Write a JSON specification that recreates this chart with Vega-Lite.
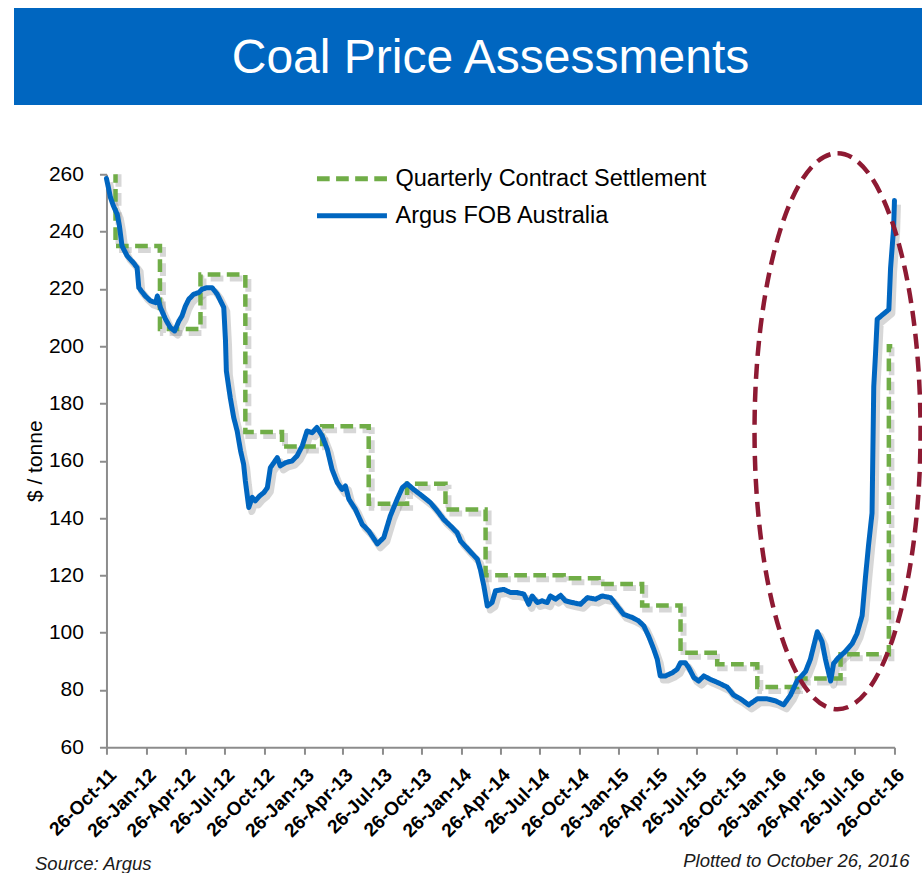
{
  "$schema": "https://vega.github.io/schema/vega-lite/v6.json",
  "padding": {"left": 14, "top": 8, "right": 0, "bottom": 0},
  "background": "white",
  "spacing": 38.25,
  "center": true,
  "bounds": "full",
  "resolve": {"legend": {"color": "independent", "strokeDash": "independent"}},
  "title": {"text": "Source: Argus", "orient": "bottom", "anchor": "start", "frame": "bounds", "font": "Liberation Sans", "fontSize": 18.5, "fontStyle": "italic", "fontWeight": "normal", "color": "#1a1a1a", "offset": -15.5, "dx": 21},
  "datasets": {
    "argus": [
      {"date":"2011-10-26","price":258.5},{"date":"2011-10-31","price":255},{"date":"2011-11-04","price":252},{"date":"2011-11-11","price":249},{"date":"2011-11-20","price":246},{"date":"2011-11-25","price":242},{"date":"2011-12-01","price":235},{"date":"2011-12-13","price":231.5},{"date":"2011-12-28","price":229},{"date":"2012-01-05","price":227.4},{"date":"2012-01-09","price":220.4},{"date":"2012-01-24","price":217.5},{"date":"2012-02-05","price":215.8},{"date":"2012-02-17","price":215.2},{"date":"2012-02-21","price":217.5},{"date":"2012-02-28","price":213.5},{"date":"2012-03-11","price":209.4},{"date":"2012-03-22","price":206.5},{"date":"2012-04-01","price":205.3},{"date":"2012-04-11","price":208.8},{"date":"2012-04-18","price":210.5},{"date":"2012-04-26","price":214},{"date":"2012-05-04","price":216.4},{"date":"2012-05-15","price":218.1},{"date":"2012-05-27","price":218.7},{"date":"2012-06-04","price":219.9},{"date":"2012-06-15","price":220.4},{"date":"2012-06-27","price":220.4},{"date":"2012-07-09","price":218.1},{"date":"2012-07-24","price":213.5},{"date":"2012-07-28","price":201.8},{"date":"2012-07-30","price":191.3},{"date":"2012-08-08","price":182},{"date":"2012-08-16","price":175.1},{"date":"2012-08-24","price":170.4},{"date":"2012-09-01","price":163.4},{"date":"2012-09-08","price":158.8},{"date":"2012-09-12","price":153},{"date":"2012-09-20","price":143.7},{"date":"2012-09-28","price":147.2},{"date":"2012-10-05","price":146},{"date":"2012-10-15","price":147.7},{"date":"2012-10-25","price":148.9},{"date":"2012-11-02","price":150.6},{"date":"2012-11-09","price":157.6},{"date":"2012-11-17","price":159.3},{"date":"2012-11-25","price":161.1},{"date":"2012-12-02","price":158.2},{"date":"2012-12-14","price":159.3},{"date":"2012-12-29","price":159.9},{"date":"2013-01-10","price":161.7},{"date":"2013-01-22","price":165.2},{"date":"2013-02-02","price":170.4},{"date":"2013-02-14","price":169.8},{"date":"2013-02-25","price":171.6},{"date":"2013-03-09","price":168.7},{"date":"2013-03-21","price":164},{"date":"2013-04-01","price":157},{"date":"2013-04-13","price":152.4},{"date":"2013-04-24","price":150},{"date":"2013-05-02","price":151.2},{"date":"2013-05-10","price":146.6},{"date":"2013-05-25","price":143.1},{"date":"2013-06-10","price":137.8},{"date":"2013-06-25","price":135.5},{"date":"2013-07-15","price":131},{"date":"2013-07-30","price":133.2},{"date":"2013-08-14","price":140.7},{"date":"2013-08-30","price":146.6},{"date":"2013-09-11","price":150.6},{"date":"2013-09-22","price":152},{"date":"2013-10-07","price":150},{"date":"2013-10-27","price":147.7},{"date":"2013-11-15","price":145.4},{"date":"2013-12-01","price":142.5},{"date":"2013-12-16","price":139.5},{"date":"2014-01-01","price":137.2},{"date":"2014-01-16","price":134.9},{"date":"2014-01-24","price":132},{"date":"2014-02-11","price":129},{"date":"2014-03-04","price":125.6},{"date":"2014-03-11","price":122},{"date":"2014-03-19","price":116.3},{"date":"2014-03-27","price":109.3},{"date":"2014-04-07","price":110.5},{"date":"2014-04-15","price":114.6},{"date":"2014-05-04","price":115.1},{"date":"2014-05-20","price":114},{"date":"2014-06-04","price":114},{"date":"2014-06-20","price":113.4},{"date":"2014-07-01","price":109.9},{"date":"2014-07-09","price":112.8},{"date":"2014-07-21","price":110.5},{"date":"2014-08-01","price":111.1},{"date":"2014-08-13","price":110.5},{"date":"2014-08-20","price":112.8},{"date":"2014-09-01","price":111.7},{"date":"2014-09-13","price":113},{"date":"2014-09-24","price":111.1},{"date":"2014-10-10","price":110.5},{"date":"2014-10-29","price":109.9},{"date":"2014-11-14","price":112.2},{"date":"2014-12-03","price":111.7},{"date":"2014-12-18","price":112.8},{"date":"2015-01-07","price":112.2},{"date":"2015-01-22","price":109.3},{"date":"2015-02-06","price":106.4},{"date":"2015-02-26","price":105.3},{"date":"2015-03-13","price":104.1},{"date":"2015-03-25","price":102.3},{"date":"2015-04-05","price":98.8},{"date":"2015-04-17","price":94.2},{"date":"2015-04-25","price":90.7},{"date":"2015-05-02","price":84.9},{"date":"2015-05-14","price":84.9},{"date":"2015-05-30","price":86},{"date":"2015-06-10","price":87.2},{"date":"2015-06-18","price":89.5},{"date":"2015-06-29","price":89.5},{"date":"2015-07-07","price":87.8},{"date":"2015-07-19","price":84.3},{"date":"2015-07-30","price":83.1},{"date":"2015-08-11","price":84.9},{"date":"2015-08-26","price":83.7},{"date":"2015-09-15","price":82.4},{"date":"2015-10-04","price":81},{"date":"2015-10-19","price":78.2},{"date":"2015-11-04","price":76.9},{"date":"2015-11-23","price":74.8},{"date":"2015-12-13","price":76.9},{"date":"2016-01-05","price":76.9},{"date":"2016-01-24","price":76.2},{"date":"2016-02-12","price":74.8},{"date":"2016-02-28","price":78.2},{"date":"2016-03-14","price":83.1},{"date":"2016-04-03","price":86.5},{"date":"2016-04-14","price":90.7},{"date":"2016-04-30","price":100.3},{"date":"2016-05-11","price":96.9},{"date":"2016-05-19","price":90.7},{"date":"2016-05-31","price":83.1},{"date":"2016-06-07","price":89.3},{"date":"2016-06-19","price":91.4},{"date":"2016-07-04","price":93.4},{"date":"2016-07-20","price":96.2},{"date":"2016-07-31","price":99.6},{"date":"2016-08-12","price":105.9},{"date":"2016-08-20","price":119.7},{"date":"2016-08-27","price":130.7},{"date":"2016-09-04","price":141.7},{"date":"2016-09-08","price":185.9},{"date":"2016-09-12","price":197},{"date":"2016-09-16","price":209.4},{"date":"2016-09-27","price":210.8},{"date":"2016-10-13","price":212.8},{"date":"2016-10-17","price":227.3},{"date":"2016-10-24","price":241.1},{"date":"2016-10-26","price":250.8}
    ],
    "quarterly": [
      {"date":"2011-10-26","price":285},{"date":"2011-11-16","price":235},{"date":"2012-02-27","price":206},{"date":"2012-05-31","price":225},{"date":"2012-09-12","price":170},{"date":"2012-12-06","price":165},{"date":"2013-03-09","price":172},{"date":"2013-06-25","price":145},{"date":"2013-09-22","price":152},{"date":"2013-12-20","price":143},{"date":"2014-03-23","price":120},{"date":"2014-09-20","price":119},{"date":"2014-12-10","price":117},{"date":"2015-03-21","price":109.5},{"date":"2015-06-18","price":93},{"date":"2015-09-11","price":89},{"date":"2015-12-13","price":81},{"date":"2016-03-14","price":84},{"date":"2016-06-23","price":92.5},{"date":"2016-10-13","price":200},{"date":"2016-10-21","price":200}
    ],
    "highlight": [
      {"date":"2016-06-16","price":170.3}
    ]
  },
  "vconcat": [
    {
      "width": 1008,
      "height": 97,
      "view": {"fill": "#0066C0", "stroke": null},
      "data": {"values": [{"label": "Coal Price Assessments"}]},
      "mark": {"type": "text", "color": "white", "font": "Liberation Sans", "fontSize": 48, "baseline": "middle", "align": "center", "dx": -27.5, "dy": 2},
      "encoding": {"text": {"field": "label", "type": "nominal"}}
    },
    {
      "width": 788,
      "height": 573,
      "title": {"text": "Plotted to October 26, 2016", "orient": "bottom", "anchor": "end", "frame": "group", "font": "Liberation Sans", "fontSize": 18.5, "fontStyle": "italic", "fontWeight": "normal", "color": "#1a1a1a", "offset": 11, "dx": 15},
      "encoding": {
        "x": {
          "field": "date", "type": "temporal",
          "scale": {"type": "utc", "domain": [{"year": 2011, "month": 10, "date": 26, "utc": true}, {"year": 2016, "month": 10, "date": 26, "utc": true}]},
          "axis": {
            "title": null, "grid": false, "format": "%d-%b-%y", "labelAngle": -45,
            "values": [
              {"year": 2011, "month": 10, "date": 26, "utc": true},
              {"year": 2012, "month": 1, "date": 26, "utc": true},
              {"year": 2012, "month": 4, "date": 26, "utc": true},
              {"year": 2012, "month": 7, "date": 26, "utc": true},
              {"year": 2012, "month": 10, "date": 26, "utc": true},
              {"year": 2013, "month": 1, "date": 26, "utc": true},
              {"year": 2013, "month": 4, "date": 26, "utc": true},
              {"year": 2013, "month": 7, "date": 26, "utc": true},
              {"year": 2013, "month": 10, "date": 26, "utc": true},
              {"year": 2014, "month": 1, "date": 26, "utc": true},
              {"year": 2014, "month": 4, "date": 26, "utc": true},
              {"year": 2014, "month": 7, "date": 26, "utc": true},
              {"year": 2014, "month": 10, "date": 26, "utc": true},
              {"year": 2015, "month": 1, "date": 26, "utc": true},
              {"year": 2015, "month": 4, "date": 26, "utc": true},
              {"year": 2015, "month": 7, "date": 26, "utc": true},
              {"year": 2015, "month": 10, "date": 26, "utc": true},
              {"year": 2016, "month": 1, "date": 26, "utc": true},
              {"year": 2016, "month": 4, "date": 26, "utc": true},
              {"year": 2016, "month": 7, "date": 26, "utc": true},
              {"year": 2016, "month": 10, "date": 26, "utc": true}
            ],
            "labelFont": "Liberation Sans", "labelFontSize": 19, "labelFontWeight": "bold", "labelColor": "#000",
            "labelPadding": 11, "labelOverlap": false, "labelFlush": false, "labelBound": false,
            "tickSize": 7, "tickWidth": 2, "tickColor": "#8c8c8c", "domainColor": "#8c8c8c", "domainWidth": 2
          }
        },
        "y": {
          "field": "price", "type": "quantitative",
          "scale": {"domain": [60, 260], "nice": false, "zero": false},
          "axis": {
            "title": "$ / tonne", "grid": false,
            "values": [60, 80, 100, 120, 140, 160, 180, 200, 220, 240, 260],
            "titleFont": "Liberation Sans", "titleFontSize": 21, "titleFontWeight": "normal", "titleColor": "#000", "titlePadding": 3,
            "labelFont": "Liberation Sans", "labelFontSize": 21, "labelColor": "#000", "labelPadding": 16,
            "labelOverlap": false, "labelFlush": false, "labelBound": false,
            "tickSize": 7, "tickWidth": 2, "tickColor": "#8c8c8c", "domainColor": "#8c8c8c", "domainWidth": 2
          }
        }
      },
      "layer": [
        {
          "data": {"name": "quarterly"},
          "mark": {"type": "line", "interpolate": "step-after", "color": "#7a7a7a", "opacity": 0.3, "strokeWidth": 6, "strokeDash": [12.7, 6.4], "xOffset": 3, "yOffset": 4, "clip": true}
        },
        {
          "data": {"name": "argus"},
          "mark": {"type": "line", "color": "#7a7a7a", "opacity": 0.3, "strokeWidth": 7, "xOffset": 3, "yOffset": 4, "strokeJoin": "round"}
        },
        {
          "data": {"name": "quarterly"},
          "mark": {"type": "line", "interpolate": "step-after", "strokeWidth": 4.5, "clip": true},
          "encoding": {
            "color": {"datum": "Quarterly Contract Settlement", "type": "nominal",
              "scale": {"domain": ["Quarterly Contract Settlement", "Argus FOB Australia"], "range": ["#70AD47", "#0066C0"]},
              "legend": {"title": null, "orient": "none", "legendX": 231, "legendY": -10, "symbolType": "M-3,0H3", "symbolSize": 544, "symbolStrokeWidth": 5, "labelFont": "Liberation Sans", "labelFontSize": 23.5, "labelColor": "#000", "rowPadding": 11, "labelOffset": 29, "padding": 0, "labelLimit": 0}},
            "strokeDash": {"datum": "Quarterly Contract Settlement", "type": "nominal",
              "scale": {"domain": ["Quarterly Contract Settlement", "Argus FOB Australia"], "range": [[12.7, 6.4], [1, 0]]},
              "legend": {"title": null, "orient": "none", "legendX": 231, "legendY": -10, "symbolType": "M-3,0H3", "symbolSize": 544, "symbolStrokeWidth": 5, "labelFont": "Liberation Sans", "labelFontSize": 23.5, "labelColor": "#000", "rowPadding": 11, "labelOffset": 29, "padding": 0, "labelLimit": 0}}
          }
        },
        {
          "data": {"name": "argus"},
          "mark": {"type": "line", "strokeWidth": 5, "strokeJoin": "round", "strokeCap": "round"},
          "encoding": {
            "color": {"datum": "Argus FOB Australia", "type": "nominal"},
            "strokeDash": {"datum": "Argus FOB Australia", "type": "nominal"}
          }
        },
        {
          "data": {"name": "highlight"},
          "mark": {"type": "point", "shape": "M0,-1C0.1649,-1 0.2986,-0.5523 0.2986,0C0.2986,0.5523 0.1649,1 0,1C-0.1649,1 -0.2986,0.5523 -0.2986,0C-0.2986,-0.5523 -0.1649,-1 0,-1Z", "size": 309136, "filled": false, "color": "#8E1A33", "strokeWidth": 4.5, "strokeDash": [15, 8], "opacity": 1}
        }
      ]
    }
  ],
  "config": {
    "view": {"stroke": null},
    "font": "Liberation Sans",
    "axis": {"grid": false}
  }
}
